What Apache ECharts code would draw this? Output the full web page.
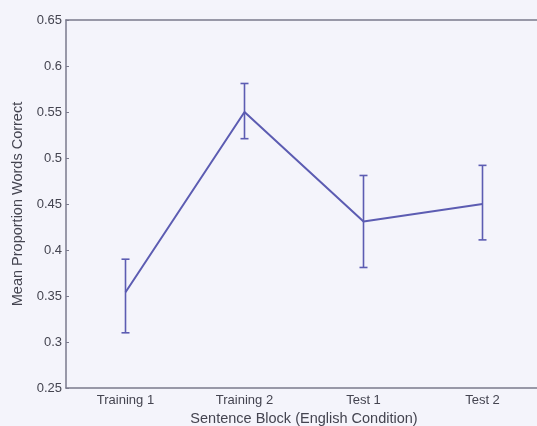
<!DOCTYPE html>
<html>
<head>
<meta charset="utf-8">
<script src="https://cdn.jsdelivr.net/npm/echarts@6/dist/echarts.min.js"></script>
<style>
  html, body { margin: 0; padding: 0; background: #f4f4fb; }
  #chart { width: 537px; height: 426px; }
</style>
</head>
<body>
<div id="chart"></div>
<script>
// Sentence blocks and mean proportion of words recalled correctly
const blocks = ['Training 1', 'Training 2', 'Test 1', 'Test 2'];
const meanCorrect = [0.354, 0.55, 0.431, 0.45];
const errLow = [0.31, 0.521, 0.381, 0.411];
const errHigh = [0.39, 0.581, 0.481, 0.492];
const yTicks = { min: 0.25, max: 0.65, step: 0.05 };

const lineColor = '#5c5cb2';
const axisColor = '#7a7a8c';
const textColor = '#444450';
const font = 'Liberation Sans, Arial, sans-serif';

const chart = echarts.init(document.getElementById('chart'));

const errorData = blocks.map((b, i) => [i, errLow[i], errHigh[i]]);

chart.setOption({
  backgroundColor: '#f4f4fb',
  animation: false,
  grid: { left: 66, top: 20, width: 476, height: 368, outerBoundsMode: 'none', containLabel: false },
  xAxis: [{
    type: 'category',
    data: blocks,
    boundaryGap: true,
    position: 'bottom',
    name: 'Sentence Block (English Condition)',
    nameLocation: 'middle',
    nameGap: 23,
    nameTextStyle: { color: textColor, fontSize: 14.5, fontFamily: font },
    axisLine: { lineStyle: { color: axisColor, width: 1.5 } },
    axisTick: { inside: true, alignWithLabel: true, length: 3, lineStyle: { color: axisColor } },
    axisLabel: { color: textColor, fontSize: 13, fontFamily: font, margin: 6 },
    splitLine: { show: false }
  }, {
    type: 'category',
    data: blocks,
    boundaryGap: true,
    position: 'top',
    axisLine: { lineStyle: { color: axisColor, width: 1.5 } },
    axisTick: { inside: true, alignWithLabel: true, length: 3, lineStyle: { color: axisColor } },
    axisLabel: { show: false },
    splitLine: { show: false }
  }],
  yAxis: {
    type: 'value',
    min: yTicks.min,
    max: yTicks.max,
    interval: yTicks.step,
    name: 'Mean Proportion Words Correct',
    nameLocation: 'middle',
    nameGap: 40,
    nameTextStyle: { color: textColor, fontSize: 14.5, fontFamily: font },
    axisLine: { show: true, lineStyle: { color: axisColor, width: 1.5 } },
    axisTick: { show: true, inside: true, length: 3, lineStyle: { color: axisColor } },
    axisLabel: {
      color: textColor, fontSize: 13, fontFamily: font, margin: 4,
      formatter: v => String(+v.toFixed(2))
    },
    splitLine: { show: false }
  },
  series: [{
    type: 'line',
    data: meanCorrect,
    symbol: 'none',
    lineStyle: { color: lineColor, width: 2 },
    z: 3
  }, {
    type: 'custom',
    data: errorData,
    z: 4,
    renderItem: function (params, api) {
      const x = api.value(0);
      const lo = api.coord([x, api.value(1)]);
      const hi = api.coord([x, api.value(2)]);
      const cap = 4;
      const style = { stroke: lineColor, lineWidth: 1.6 };
      return {
        type: 'group',
        children: [
          { type: 'line', shape: { x1: hi[0], y1: hi[1], x2: lo[0], y2: lo[1] }, style },
          { type: 'line', shape: { x1: hi[0] - cap, y1: hi[1], x2: hi[0] + cap, y2: hi[1] }, style },
          { type: 'line', shape: { x1: lo[0] - cap, y1: lo[1], x2: lo[0] + cap, y2: lo[1] }, style }
        ]
      };
    }
  }]
});
</script>
</body>
</html>
